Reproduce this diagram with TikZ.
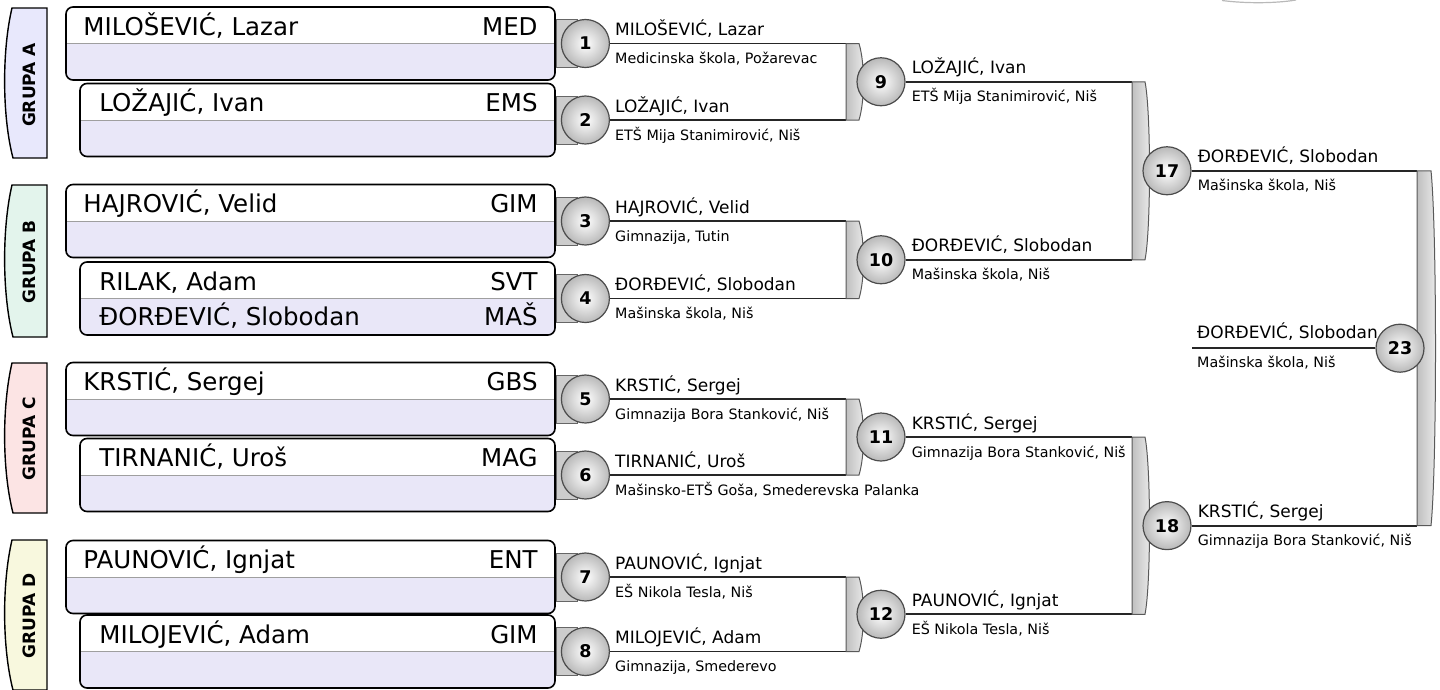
\documentclass[tikz,border=0pt]{standalone}
\usepackage{fontspec}
\setmainfont{DejaVu Sans}
\usepackage{xcolor}
\usepackage{tikz}
\usetikzlibrary{positioning, calc}
\definecolor{grpa}{RGB}{232,232,252}
\definecolor{grpb}{RGB}{227,244,236}
\definecolor{grpc}{RGB}{252,228,228}
\definecolor{grpd}{RGB}{248,248,222}
\definecolor{boxlav}{RGB}{233,231,248}
\tikzset{
    grp/.style={draw, line width=1.4pt},
    grptext/.style={rotate=90, inner sep=0pt, font=\bfseries\fontsize{17}{20}\selectfont},
    plbox/.style={rectangle, rounded corners=7pt, draw, line width=1.6pt, fill=boxlav, minimum height=73pt, inner sep=0pt,
        path picture={\fill[white, sharp corners] (path picture bounding box.north west) rectangle (path picture bounding box.east);
                      \draw[gray!75, line width=0.9pt] (path picture bounding box.west) -- (path picture bounding box.east);}},
    pname/.style={inner sep=0pt, font=\fontsize{24.5}{28}\selectfont},
    tab/.style={draw=black!60, fill=gray!40, line width=1pt},
    match/.style={circle, draw=black!70, line width=1.2pt, minimum size=48pt, inner sep=0pt, inner color=white, outer color=gray!55, font=\bfseries\fontsize{17.5}{20}\selectfont},
    wire/.style={draw=black!85, line width=1.8pt},
    brk/.style={draw=black!65, line width=1pt, left color=gray!50, right color=gray!15},
    who/.style={inner sep=0pt, font=\fontsize{17}{19}\selectfont},
    school/.style={inner sep=0pt, font=\fontsize{14.3}{16}\selectfont}
}
\begin{document}
\begin{tikzpicture}[x=1pt, y=-1pt]
\useasboundingbox (0,0) rectangle (1440,689);

% groups
\draw[grp, fill=grpa] (47,8) -- (12,8) .. controls (2,50) and (2,116) .. (13,158) -- (47,158) -- cycle;
\node (ga) [grptext] at (29,85) {GRUPA A};
\draw[grp, fill=grpb] (47,185) -- (12,185) .. controls (2,228) and (2,294) .. (13,337) -- (47,337) -- cycle;
\node (gb) [grptext] at (29,262) {GRUPA B};
\draw[grp, fill=grpc] (47,363) -- (12,363) .. controls (2,406) and (2,470) .. (13,513) -- (47,513) -- cycle;
\node (gc) [grptext] at (29,439) {GRUPA C};
\draw[grp, fill=grpd] (47,540) -- (12,540) .. controls (2,583) and (2,647) .. (13,690) -- (47,690) -- cycle;
\node (gd) [grptext] at (29,616) {GRUPA D};

% players
\node (a1) [plbox, minimum width=489pt] at (310.5,43.5) {};
\node (a1p) [pname, anchor=base west] at ([shift={(18pt,-29pt)}]a1.north west) {MILOŠEVIĆ, Lazar};
\node (a1k) [pname, anchor=base east] at ([shift={(-18pt,-29pt)}]a1.north east) {MED};
\node (a2) [plbox, minimum width=475pt] at (317.5,120) {};
\node (a2p) [pname, anchor=base west] at ([shift={(20pt,-29pt)}]a2.north west) {LOŽAJIĆ, Ivan};
\node (a2k) [pname, anchor=base east] at ([shift={(-18pt,-29pt)}]a2.north east) {EMS};

\node (b1) [plbox, minimum width=489pt] at (310.5,221) {};
\node (b1p) [pname, anchor=base west] at ([shift={(18pt,-29pt)}]b1.north west) {HAJROVIĆ, Velid};
\node (b1k) [pname, anchor=base east] at ([shift={(-18pt,-29pt)}]b1.north east) {GIM};
\node (b2) [plbox, minimum width=475pt] at (317.5,298.5) {};
\node (b2p) [pname, anchor=base west] at ([shift={(20pt,-29pt)}]b2.north west) {RILAK, Adam};
\node (b2k) [pname, anchor=base east] at ([shift={(-18pt,-29pt)}]b2.north east) {SVT};
\node (b2q) [pname, anchor=base west] at ([shift={(20pt,-64.5pt)}]b2.north west) {ĐORĐEVIĆ, Slobodan};
\node (b2l) [pname, anchor=base east] at ([shift={(-18pt,-64.5pt)}]b2.north east) {MAŠ};

\node (c1) [plbox, minimum width=489pt] at (310.5,399) {};
\node (c1p) [pname, anchor=base west] at ([shift={(18pt,-29pt)}]c1.north west) {KRSTIĆ, Sergej};
\node (c1k) [pname, anchor=base east] at ([shift={(-18pt,-29pt)}]c1.north east) {GBS};
\node (c2) [plbox, minimum width=475pt] at (317.5,475) {};
\node (c2p) [pname, anchor=base west] at ([shift={(20pt,-29pt)}]c2.north west) {TIRNANIĆ, Uroš};
\node (c2k) [pname, anchor=base east] at ([shift={(-18pt,-29pt)}]c2.north east) {MAG};

\node (d1) [plbox, minimum width=489pt] at (310.5,577) {};
\node (d1p) [pname, anchor=base west] at ([shift={(18pt,-29pt)}]d1.north west) {PAUNOVIĆ, Ignjat};
\node (d1k) [pname, anchor=base east] at ([shift={(-18pt,-29pt)}]d1.north east) {ENT};
\node (d2) [plbox, minimum width=475pt] at (317.5,651.5) {};
\node (d2p) [pname, anchor=base west] at ([shift={(20pt,-29pt)}]d2.north west) {MILOJEVIĆ, Adam};
\node (d2k) [pname, anchor=base east] at ([shift={(-18pt,-29pt)}]d2.north east) {GIM};

% tabs behind the first round
\draw[tab] ([shift={(1pt,24pt)}]a1.east) rectangle ([shift={(22pt,-24pt)}]a1.east);
\draw[tab] ([shift={(1pt,24pt)}]a2.east) rectangle ([shift={(22pt,-24pt)}]a2.east);
\draw[tab] ([shift={(1pt,24pt)}]b1.east) rectangle ([shift={(22pt,-24pt)}]b1.east);
\draw[tab] ([shift={(1pt,24pt)}]b2.east) rectangle ([shift={(22pt,-24pt)}]b2.east);
\draw[tab] ([shift={(1pt,24pt)}]c1.east) rectangle ([shift={(22pt,-24pt)}]c1.east);
\draw[tab] ([shift={(1pt,24pt)}]c2.east) rectangle ([shift={(22pt,-24pt)}]c2.east);
\draw[tab] ([shift={(1pt,24pt)}]d1.east) rectangle ([shift={(22pt,-24pt)}]d1.east);
\draw[tab] ([shift={(1pt,24pt)}]d2.east) rectangle ([shift={(22pt,-24pt)}]d2.east);

% first round
\node (m1) [match, right=5pt of a1] {1};
\node (m2) [match, right=5pt of a2] {2};
\node (m3) [match, right=5pt of b1] {3};
\node (m4) [match, right=5pt of b2] {4};
\node (m5) [match, right=5pt of c1] {5};
\node (m6) [match, right=5pt of c2] {6};
\node (m7) [match, right=5pt of d1] {7};
\node (m8) [match, right=5pt of d2] {8};

\coordinate (col1) at (846,0);
\coordinate (col2) at (1132,0);
\coordinate (col3) at (1417,0);

\draw[wire] (m1) -- (m1 -| col1);
\draw[wire] (m2) -- (m2 -| col1);
\draw[wire] (m3) -- (m3 -| col1);
\draw[wire] (m4) -- (m4 -| col1);
\draw[wire] (m5) -- (m5 -| col1);
\draw[wire] (m6) -- (m6 -| col1);
\draw[wire] (m7) -- (m7 -| col1);
\draw[wire] (m8) -- (m8 -| col1);

\draw[brk] (m1 -| col1) -- ++(13,0) .. controls +(6,20) and +(6,-20) .. ($(m2 -| col1)+(13,0)$) -- (m2 -| col1) -- cycle;
\draw[brk] (m3 -| col1) -- ++(13,0) .. controls +(6,20) and +(6,-20) .. ($(m4 -| col1)+(13,0)$) -- (m4 -| col1) -- cycle;
\draw[brk] (m5 -| col1) -- ++(13,0) .. controls +(6,20) and +(6,-20) .. ($(m6 -| col1)+(13,0)$) -- (m6 -| col1) -- cycle;
\draw[brk] (m7 -| col1) -- ++(13,0) .. controls +(6,20) and +(6,-20) .. ($(m8 -| col1)+(13,0)$) -- (m8 -| col1) -- cycle;

% second round
\node (m9) [match] at ($(m1 -| col1)!0.5!(m2 -| col1)+(35,0)$) {9};
\node (m10) [match] at ($(m3 -| col1)!0.5!(m4 -| col1)+(35,0)$) {10};
\node (m11) [match] at ($(m5 -| col1)!0.5!(m6 -| col1)+(35,0)$) {11};
\node (m12) [match] at ($(m7 -| col1)!0.5!(m8 -| col1)+(35,0)$) {12};

\draw[wire] (m9) -- (m9 -| col2);
\draw[wire] (m10) -- (m10 -| col2);
\draw[wire] (m11) -- (m11 -| col2);
\draw[wire] (m12) -- (m12 -| col2);

\draw[brk] (m9 -| col2) -- ++(13,0) .. controls +(6,30) and +(6,-30) .. ($(m10 -| col2)+(13,0)$) -- (m10 -| col2) -- cycle;
\draw[brk] (m11 -| col2) -- ++(13,0) .. controls +(6,30) and +(6,-30) .. ($(m12 -| col2)+(13,0)$) -- (m12 -| col2) -- cycle;

% semi-finals
\node (m17) [match] at ($(m9 -| col2)!0.5!(m10 -| col2)+(35,0)$) {17};
\node (m18) [match] at ($(m11 -| col2)!0.5!(m12 -| col2)+(35,0)$) {18};

\draw[wire] (m17) -- (m17 -| col3);
\draw[wire] (m18) -- (m18 -| col3);
\draw[brk] (m17 -| col3) -- ++(14,0) .. controls +(6,60) and +(6,-60) .. ($(m18 -| col3)+(14,0)$) -- (m18 -| col3) -- cycle;

% final
\node (m23) [match] at ($(m17 -| col3)!0.5!(m18 -| col3)+(-17,0)$) {23};
\coordinate (f23) at ($(m23)+(-208,0)$);
\draw[wire] (f23) -- (m23);

% winners
\node (n1) [who, anchor=base west] at ([shift={(5pt,8pt)}]m1.east) {MILOŠEVIĆ, Lazar};
\node (s1) [school, anchor=base west] at ([shift={(5pt,-20pt)}]m1.east) {Medicinska škola, Požarevac};
\node (n2) [who, anchor=base west] at ([shift={(5pt,8pt)}]m2.east) {LOŽAJIĆ, Ivan};
\node (s2) [school, anchor=base west] at ([shift={(5pt,-20pt)}]m2.east) {ETŠ Mija Stanimirović, Niš};
\node (n3) [who, anchor=base west] at ([shift={(5pt,8pt)}]m3.east) {HAJROVIĆ, Velid};
\node (s3) [school, anchor=base west] at ([shift={(5pt,-20pt)}]m3.east) {Gimnazija, Tutin};
\node (n4) [who, anchor=base west] at ([shift={(5pt,8pt)}]m4.east) {ĐORĐEVIĆ, Slobodan};
\node (s4) [school, anchor=base west] at ([shift={(5pt,-20pt)}]m4.east) {Mašinska škola, Niš};
\node (n5) [who, anchor=base west] at ([shift={(5pt,8pt)}]m5.east) {KRSTIĆ, Sergej};
\node (s5) [school, anchor=base west] at ([shift={(5pt,-20pt)}]m5.east) {Gimnazija Bora Stanković, Niš};
\node (n6) [who, anchor=base west] at ([shift={(5pt,8pt)}]m6.east) {TIRNANIĆ, Uroš};
\node (s6) [school, anchor=base west] at ([shift={(5pt,-20pt)}]m6.east) {Mašinsko-ETŠ Goša, Smederevska Palanka};
\node (n7) [who, anchor=base west] at ([shift={(5pt,8pt)}]m7.east) {PAUNOVIĆ, Ignjat};
\node (s7) [school, anchor=base west] at ([shift={(5pt,-20pt)}]m7.east) {EŠ Nikola Tesla, Niš};
\node (n8) [who, anchor=base west] at ([shift={(5pt,8pt)}]m8.east) {MILOJEVIĆ, Adam};
\node (s8) [school, anchor=base west] at ([shift={(5pt,-20pt)}]m8.east) {Gimnazija, Smederevo};

\node (n9) [who, anchor=base west] at ([shift={(6pt,8pt)}]m9.east) {LOŽAJIĆ, Ivan};
\node (s9) [school, anchor=base west] at ([shift={(6pt,-20pt)}]m9.east) {ETŠ Mija Stanimirović, Niš};
\node (n10) [who, anchor=base west] at ([shift={(6pt,8pt)}]m10.east) {ĐORĐEVIĆ, Slobodan};
\node (s10) [school, anchor=base west] at ([shift={(6pt,-20pt)}]m10.east) {Mašinska škola, Niš};
\node (n11) [who, anchor=base west] at ([shift={(6pt,8pt)}]m11.east) {KRSTIĆ, Sergej};
\node (s11) [school, anchor=base west] at ([shift={(6pt,-20pt)}]m11.east) {Gimnazija Bora Stanković, Niš};
\node (n12) [who, anchor=base west] at ([shift={(6pt,8pt)}]m12.east) {PAUNOVIĆ, Ignjat};
\node (s12) [school, anchor=base west] at ([shift={(6pt,-20pt)}]m12.east) {EŠ Nikola Tesla, Niš};

\node (n17) [who, anchor=base west] at ([shift={(6pt,8pt)}]m17.east) {ĐORĐEVIĆ, Slobodan};
\node (s17) [school, anchor=base west] at ([shift={(6pt,-20pt)}]m17.east) {Mašinska škola, Niš};
\node (n18) [who, anchor=base west] at ([shift={(6pt,8pt)}]m18.east) {KRSTIĆ, Sergej};
\node (s18) [school, anchor=base west] at ([shift={(6pt,-20pt)}]m18.east) {Gimnazija Bora Stanković, Niš};

\node (n23) [who, anchor=base west] at ([shift={(5pt,10pt)}]f23) {ĐORĐEVIĆ, Slobodan};
\node (s23) [school, anchor=base west] at ([shift={(5pt,-19pt)}]f23) {Mašinska škola, Niš};

% faint arc at the top edge
\draw[gray!55, line width=1.2pt] (1222,0.5) .. controls (1245,3.5) and (1275,3.5) .. (1296,0);
\end{tikzpicture}
\end{document}
